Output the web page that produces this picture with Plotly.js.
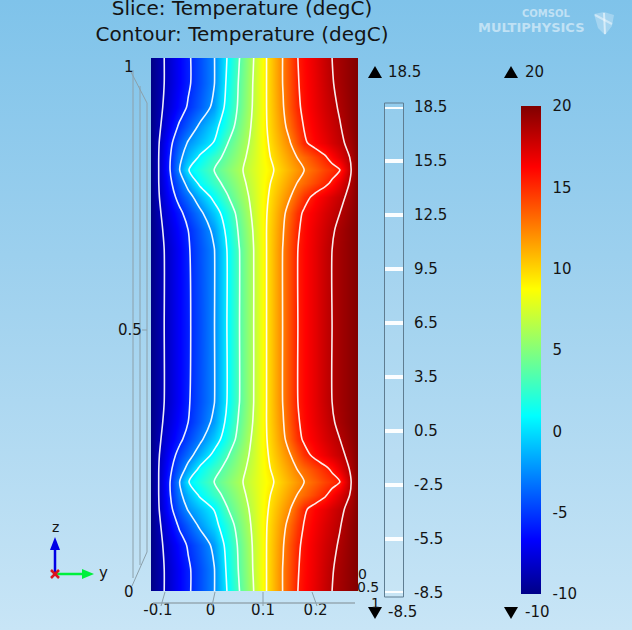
<!DOCTYPE html>
<html>
<head>
<meta charset="utf-8">
<script src="https://cdn.plot.ly/plotly-3.0.1.min.js"></script>
<style>
html,body{margin:0;padding:0;width:632px;height:630px;overflow:hidden;background:linear-gradient(to bottom,#7FC3EA 0%,#A3D3EF 50%,#C8E5F6 100%);}
#chart{width:632px;height:630px;}
</style>
</head>
<body>
<div id="chart"></div>
<script>
// Data
const yPositions = [-0.129,-0.114,-0.102,-0.090,-0.071,-0.053,-0.029,0,0.027,0.051,0.065,0.080,0.094,0.108,0.122,0.141,0.155,0.169,0.184,0.206,0.227,0.241,0.257,0.280,0.294];
const zPositions = [0,0.041,0.086,0.124,0.154,0.180,0.205,0.229,0.255,0.285,0.317,0.355,0.497,0.640,0.677,0.709,0.739,0.765,0.790,0.814,0.841,0.871,0.908,0.953,1];
const rowFar   = [-10,-9.2,-8.5,-7.9,-6.8,-5.8,-4.4,-2.6,0.6,3.4,4.9,6.4,8.0,9.6,10.9,12.6,14.0,15.4,16.1,17.0,17.9,18.5,19.0,19.6,20];
const rowB     = [-10,-9.2,-8.5,-7.9,-6.8,-5.8,-4.4,-2.6,0.9,3.7,5.1,6.6,8.1,9.6,10.9,12.6,13.9,15.3,16.0,16.9,17.8,18.4,18.9,19.6,20];
const rowC     = [-10,-9.1,-8.3,-7.6,-6.4,-5.3,-3.9,-2.0,1.3,3.9,5.3,6.7,8.0,9.6,10.8,12.4,13.8,15.1,15.9,16.8,17.6,18.1,18.7,19.5,20];
const rowD     = [-10,-8.9,-7.9,-6.8,-5.2,-3.9,-2.1,-0.3,2.1,4.5,5.7,6.9,8.2,9.5,10.6,12.0,13.2,14.5,15.6,16.5,17.3,17.8,18.4,19.4,20];
const rowE     = [-10,-8.7,-7.3,-6.0,-4.0,-2.3,-1.0,0.6,3.4,5.1,6.1,7.1,8.2,9.3,10.3,11.5,12.4,13.8,15.2,16.2,16.9,17.5,18.1,19.1,20];
const rowF     = [-10,-8.6,-7.1,-5.6,-3.1,-1.2,0.8,2.6,4.2,5.6,6.5,7.3,8.2,9.1,9.9,10.9,11.7,12.5,13.2,14.3,15.3,16.2,17.2,18.7,20];
const rowBump  = [-10,-8.6,-7.0,-5.5,-2.6,0.4,1.9,3.5,4.9,6.1,6.8,7.5,8.2,8.8,9.5,10.4,11.1,11.8,12.5,13.4,14.3,14.8,15.5,18.5,20];
const rowH     = [-10,-8.6,-7.3,-5.9,-3.9,-1.7,1.0,2.7,4.2,5.6,6.5,7.3,8.2,9.1,9.9,10.9,11.7,12.5,13.2,14.2,15.1,15.8,17.0,18.8,20];
const rowI     = [-10,-8.7,-7.6,-6.5,-4.8,-3.4,-1.3,1.1,3.3,5.1,6.1,7.1,8.2,9.3,10.3,11.5,12.4,13.6,14.8,16.0,16.8,17.4,18.0,19.1,20];
const rowJ     = [-10,-8.9,-8.0,-7.2,-6.0,-4.7,-3.0,-0.7,1.8,4.3,5.6,6.9,8.2,9.5,10.6,12.1,13.4,14.8,15.8,16.6,17.4,17.9,18.5,19.4,20];
const rowK     = [-10,-9.1,-8.3,-7.6,-6.5,-5.5,-4.0,-2.0,1.1,3.8,5.2,6.6,8.1,9.6,10.8,12.4,13.8,15.2,16.0,16.9,17.7,18.3,18.9,19.6,20];
const rowL     = [-10,-9.2,-8.5,-7.9,-6.8,-5.7,-4.3,-2.6,0.6,3.4,4.9,6.4,8.0,9.6,10.9,12.6,14.0,15.4,16.1,17.0,17.9,18.5,19.0,19.6,20];
const temperature = [rowFar,rowB,rowC,rowD,rowE,rowF,rowBump,rowH,rowI,rowJ,rowK,rowL,rowFar,rowL,rowK,rowJ,rowI,rowH,rowBump,rowF,rowE,rowD,rowC,rowB,rowFar];
const contourLevels = [18.5,15.5,12.5,9.5,6.5,3.5,0.5,-2.5,-5.5,-8.5];
const contourLabels = ['18.5','15.5','12.5','9.5','6.5','3.5','0.5','-2.5','-5.5','-8.5'];
const colorTicks = [20,15,10,5,0,-5,-10];
const colorTickLabels = ['20','15','10','5','0','-5','-10'];
const yAxisTicks = [-0.1,0,0.1,0.2];
const yAxisLabels = ['-0.1','0','0.1','0.2'];

// Page pixels to paper fractions
const W = 632, H = 630;
const X = p => p / W;
const Y = p => 1 - p / H;
const FONT = '"DejaVu Sans", sans-serif';
const INK = '#141414';

const jet = [[0,'rgb(0,0,135)'],[0.11,'rgb(0,0,255)'],[0.365,'rgb(0,255,255)'],[0.625,'rgb(255,255,0)'],[0.875,'rgb(255,0,0)'],[1,'rgb(128,0,0)']];

const levelBarX = [], levelBarY = [];
contourLevels.forEach(l => { levelBarX.push(0,1,null); levelBarY.push(l,l,null); });

const traces = [
  {type:'heatmap', x:yPositions, y:zPositions, z:temperature, zmin:-10, zmax:20, zsmooth:'best',
   colorscale:jet, hoverinfo:'skip',
   colorbar:{x:X(521), xanchor:'left', y:Y(594), yanchor:'bottom', len:488/H, lenmode:'fraction',
     thickness:20, thicknessmode:'pixels', xpad:0, ypad:0, outlinewidth:0, borderwidth:0,
     tickmode:'array', tickvals:colorTicks, ticktext:colorTickLabels, ticks:'outside', ticklen:9,
     tickcolor:'rgba(0,0,0,0)', tickfont:{family:FONT,size:15,color:INK}}},
  {type:'contour', x:yPositions, y:zPositions, z:temperature, showscale:false, hoverinfo:'skip',
   autocontour:false, contours:{start:-8.5,end:18.5,size:3,coloring:'none',showlabels:false},
   line:{color:'rgba(255,255,255,0.92)',width:1.6,smoothing:0.8}},
  {type:'scatter', mode:'markers', x:yAxisTicks, y:yAxisTicks.map(()=>0), xaxis:'x2', yaxis:'y2',
   marker:{opacity:0,size:1}, hoverinfo:'skip', showlegend:false},
  {type:'scatter', mode:'lines', x:levelBarX, y:levelBarY, xaxis:'x3', yaxis:'y3',
   line:{color:'rgba(255,255,255,0.95)',width:4}, cliponaxis:false, hoverinfo:'skip', showlegend:false, connectgaps:false}
];

const gray = 'rgb(140,160,170)';
const line = (x0,y0,x1,y1,color,width) => ({type:'line',xref:'paper',yref:'paper',x0:X(x0),y0:Y(y0),x1:X(x1),y1:Y(y1),line:{color:color||gray,width:width||1},layer:'above'});
const poly = (pts,color) => ({type:'path',xref:'paper',yref:'paper',layer:'above',fillcolor:color,line:{width:0},
  path:'M'+pts.map(p=>X(p[0])+','+Y(p[1])).join('L')+'Z'});

const shapes = [
  // Side edges of the 3D box
  line(133,70,133,578), line(140,86,140,565), line(147,103,147,552),
  line(131,72,147,103), line(147,552,132,586), line(142,330,147,330),
  // Lower axis line and slanted ticks from slice to its labels
  line(153,603,355,603,'rgb(150,168,178)',1.5),
  line(165,592,161,606), line(215,592,212,606), line(263,592,263,606), line(312,592,317,606),
  // Contour legend box
  {type:'rect',xref:'paper',yref:'paper',x0:X(384.5),x1:X(403.5),y0:Y(597),y1:Y(103),line:{color:'rgb(95,125,145)',width:1},fillcolor:'rgba(255,255,255,0.08)',layer:'below'},
  // Range triangles
  poly([[368,78],[382,78],[375,66]],'#000'),
  poly([[504,78],[518,78],[511,66]],'#000'),
  poly([[368,607],[382,607],[375,619]],'#000'),
  poly([[504,607],[518,607],[511,619]],'#000'),
  // Axis triad
  line(55,574,55,548,'rgb(0,0,230)',2.5),
  poly([[50,550],[60,550],[55,537]],'rgb(0,0,230)'),
  line(55,574,84,574,'rgb(0,240,60)',2.5),
  poly([[82,569],[82,579],[94,574]],'rgb(0,240,60)'),
  line(51,570,59,578,'rgb(220,20,30)',2.5),
  line(59,570,51,578,'rgb(220,20,30)',2.5),
  // Logo mark
  poly([[594,14],[604,12],[614,15],[612,26],[605,35],[598,28]],'rgba(255,255,255,0.28)'),
  line(604,13,605,34,'rgba(255,255,255,0.55)',2),
  line(595,15,612,24,'rgba(255,255,255,0.45)',2)
];

const ann = (text,x,y,size,opts) => Object.assign({text,x:X(x),y:Y(y),xref:'paper',yref:'paper',showarrow:false,
  xanchor:'center',yanchor:'middle',borderpad:0,font:{family:FONT,size:size||15,color:INK}},opts||{});

const annotations = [
  ann('1',129,67), ann('0.5',130,330), ann('0',129,592),
  ann('0',362,574,14), ann('0.5',368,587,14), ann('1',375,603,14),
  ann('18.5',387,72,15,{xanchor:'left'}), ann('20',524,72,15,{xanchor:'left'}),
  ann('-8.5',387,612,15,{xanchor:'left'}), ann('-10',524,612,15,{xanchor:'left'}),
  ann('z',55,527,14), ann('y',103,573,15),
  ann('COMSOL',546,13,10,{font:{family:FONT,size:10,weight:700,color:'rgba(255,255,255,0.5)'}}),
  ann('MULTIPHYSICS',531,28,13,{font:{family:FONT,size:13,weight:700,color:'rgba(255,255,255,0.5)'}})
];

const layout = {
  width:W, height:H, autosize:false,
  margin:{l:0,r:0,t:0,b:0,pad:0,autoexpand:false},
  paper_bgcolor:'rgba(0,0,0,0)', plot_bgcolor:'rgba(0,0,0,0)',
  showlegend:false,
  title:{text:'Slice: Temperature (degC)<br>Contour: Temperature (degC)', x:X(242), xanchor:'center', xref:'paper',
    y:Y(15), yanchor:'top', yref:'paper', automargin:false, pad:{t:0,b:0,l:0,r:0}, font:{family:FONT,size:20,color:INK}},
  xaxis:{domain:[X(151),X(358)], range:[-0.129,0.294], visible:false, fixedrange:true, anchor:'y'},
  yaxis:{domain:[Y(591),Y(58)], range:[0,1], visible:false, fixedrange:true, anchor:'x'},
  xaxis2:{domain:[X(153),X(355)], range:[-0.1095,0.2752], anchor:'y2', side:'bottom', showgrid:false, zeroline:false,
    showline:false, tickmode:'array', tickvals:yAxisTicks, ticktext:yAxisLabels,
    ticks:'', tickfont:{family:FONT,size:15,color:INK}, fixedrange:true},
  yaxis2:{domain:[Y(599),Y(596)], range:[-1,1], visible:false, anchor:'x2', fixedrange:true},
  xaxis3:{domain:[X(385),X(403)], range:[0,1], visible:false, anchor:'y3', fixedrange:true},
  yaxis3:{domain:[Y(593),Y(107)], range:[-8.5,18.5], anchor:'x3', side:'right', showgrid:false, zeroline:false, showline:false,
    tickmode:'array', tickvals:contourLevels, ticktext:contourLabels, ticks:'outside', ticklen:7, tickcolor:'rgba(0,0,0,0)',
    tickfont:{family:FONT,size:15,color:INK}, fixedrange:true},
  shapes, annotations
};

Plotly.newPlot('chart', traces, layout, {displayModeBar:false, staticPlot:true});
</script>
</body>
</html>
